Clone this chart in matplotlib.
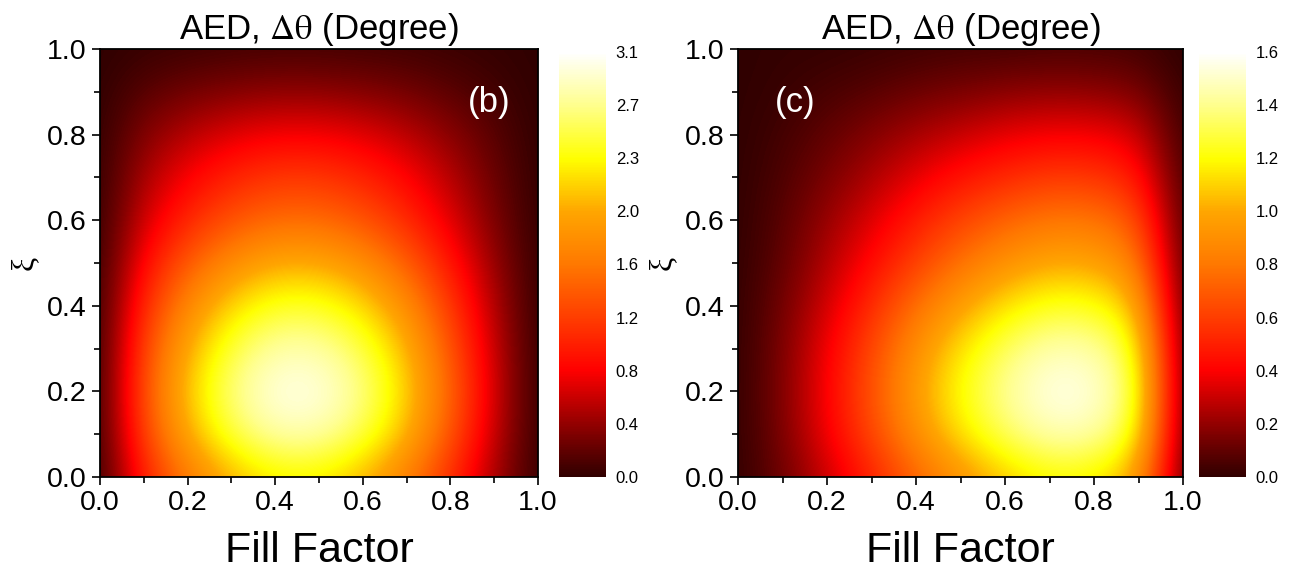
import numpy as np
import matplotlib
matplotlib.use("Agg")
import matplotlib.pyplot as plt
from matplotlib.colors import LinearSegmentedColormap

plt.rcParams['font.family'] = ['Liberation Sans', 'DejaVu Sans']
plt.rcParams['mathtext.fontset'] = 'stix'

# grid positions (fill factor on x, xi on y)
fill_factor = [0.0, 0.1, 0.2, 0.3, 0.4, 0.5, 0.6, 0.7, 0.8, 0.9, 1.0]
xi = [0.0, 0.1, 0.2, 0.3, 0.4, 0.5, 0.6, 0.7, 0.8, 0.9, 1.0]

# panel (b): rows are xi = 0 ... 1, columns are fill factor = 0 ... 1
aed_b = [
    [0, 0.97, 1.56, 2.00, 2.25, 2.25, 2.02, 1.61, 1.06, 0.46, 0],
    [0, 1.22, 1.97, 2.52, 2.84, 2.84, 2.55, 2.03, 1.33, 0.58, 0],
    [0, 1.30, 2.11, 2.70, 3.04, 3.04, 2.73, 2.17, 1.43, 0.62, 0],
    [0, 1.22, 1.97, 2.52, 2.84, 2.84, 2.55, 2.03, 1.33, 0.58, 0],
    [0, 1.05, 1.70, 2.18, 2.45, 2.45, 2.20, 1.75, 1.15, 0.50, 0],
    [0, 0.84, 1.36, 1.74, 1.96, 1.96, 1.76, 1.40, 0.92, 0.40, 0],
    [0, 0.63, 1.02, 1.31, 1.47, 1.47, 1.32, 1.05, 0.69, 0.30, 0],
    [0, 0.48, 0.78, 1.00, 1.13, 1.13, 1.01, 0.81, 0.53, 0.23, 0],
    [0, 0.33, 0.53, 0.68, 0.76, 0.76, 0.69, 0.55, 0.36, 0.16, 0],
    [0, 0.16, 0.26, 0.33, 0.37, 0.37, 0.33, 0.27, 0.17, 0.08, 0],
    [0, 0.03, 0.05, 0.07, 0.08, 0.08, 0.07, 0.06, 0.04, 0.02, 0],
]

# panel (c)
aed_c = [
    [0, 0.12, 0.30, 0.50, 0.72, 0.91, 1.07, 1.18, 1.16, 0.98, 0.06],
    [0, 0.15, 0.38, 0.63, 0.90, 1.14, 1.34, 1.47, 1.46, 1.23, 0.08],
    [0, 0.16, 0.40, 0.67, 0.96, 1.22, 1.42, 1.57, 1.55, 1.31, 0.08],
    [0, 0.15, 0.38, 0.63, 0.90, 1.14, 1.34, 1.47, 1.46, 1.23, 0.08],
    [0, 0.13, 0.32, 0.54, 0.77, 0.97, 1.14, 1.25, 1.24, 1.05, 0.06],
    [0, 0.10, 0.26, 0.43, 0.61, 0.78, 0.91, 1.00, 0.99, 0.84, 0.05],
    [0, 0.08, 0.21, 0.34, 0.49, 0.62, 0.73, 0.80, 0.80, 0.67, 0.04],
    [0, 0.06, 0.15, 0.25, 0.36, 0.46, 0.53, 0.59, 0.58, 0.49, 0.03],
    [0, 0.04, 0.10, 0.17, 0.24, 0.30, 0.36, 0.39, 0.39, 0.33, 0.02],
    [0, 0.02, 0.05, 0.08, 0.12, 0.15, 0.18, 0.20, 0.19, 0.16, 0.01],
    [0, 0.01, 0.01, 0.02, 0.03, 0.04, 0.04, 0.05, 0.05, 0.04, 0.00],
]

cbar_ticks_b = [0.0, 0.39, 0.78, 1.17, 1.56, 1.95, 2.34, 2.73, 3.12]
cbar_labels_b = ['0.0', '0.4', '0.8', '1.2', '1.6', '2.0', '2.3', '2.7', '3.1']
cbar_ticks_c = [0.0, 0.2, 0.4, 0.6, 0.8, 1.0, 1.2, 1.4, 1.6]
cbar_labels_c = ['0.0', '0.2', '0.4', '0.6', '0.8', '1.0', '1.2', '1.4', '1.6']

# Origin-like red-yellow palette
fire = LinearSegmentedColormap.from_list('fire', [
    (0.0, (0.19, 0.0, 0.0)),
    (0.125, (0.58, 0.0, 0.0)),
    (0.25, (1.0, 0.0, 0.0)),
    (0.375, (1.0, 0.24, 0.0)),
    (0.5, (1.0, 0.47, 0.0)),
    (0.625, (1.0, 0.65, 0.0)),
    (0.75, (1.0, 1.0, 0.0)),
    (0.875, (1.0, 1.0, 0.55)),
    (1.0, (1.0, 1.0, 1.0)),
])

fig = plt.figure(figsize=(12.96, 5.81), dpi=100)
W, H = 1296, 581


def box(x0, y0, x1, y1):
    return [x0 / W, 1 - y1 / H, (x1 - x0) / W, (y1 - y0) / H]


panels = [
    (aed_b, box(100, 49, 538, 477), box(559, 52, 606, 477), 3.12,
     cbar_ticks_b, cbar_labels_b, '(b)', 0.888),
    (aed_c, box(738, 49, 1183, 477), box(1199, 52, 1246, 477), 1.6,
     cbar_ticks_c, cbar_labels_c, '(c)', 0.128),
]

dx = (fill_factor[1] - fill_factor[0]) / 2
dy = (xi[1] - xi[0]) / 2
for data, ax_box, cb_box, vmax, cticks, clabels, tag, tag_x in panels:
    ax = fig.add_axes(ax_box)
    im = ax.imshow(np.array(data), origin='lower', cmap=fire, vmin=0, vmax=vmax,
                   extent=(fill_factor[0] - dx, fill_factor[-1] + dx, xi[0] - dy, xi[-1] + dy),
                   interpolation='bicubic', aspect='auto')
    ax.set_xlim(0, 1)
    ax.set_ylim(0, 1)
    ax.set_xticks([0, 0.2, 0.4, 0.6, 0.8, 1.0])
    ax.set_yticks([0, 0.2, 0.4, 0.6, 0.8, 1.0])
    ax.set_xticks([0.1, 0.3, 0.5, 0.7, 0.9], minor=True)
    ax.set_yticks([0.1, 0.3, 0.5, 0.7, 0.9], minor=True)
    ax.tick_params(which='both', direction='out', top=False, right=False,
                   labelsize=20.5, width=1.2)
    ax.tick_params(which='major', length=6)
    ax.tick_params(which='minor', length=4)
    for s in ax.spines.values():
        s.set_linewidth(1.3)
    ax.set_xlabel('Fill Factor', fontsize=31, labelpad=11)
    ax.set_ylabel('ξ', fontsize=23, family=['Liberation Serif', 'DejaVu Serif'], labelpad=6)
    ax.set_title(r'AED, $\mathrm{Δθ}$ (Degree)', fontsize=25, pad=7)
    ax.text(tag_x, 0.874, tag, color='white', fontsize=25, transform=ax.transAxes,
            ha='center', va='center')

    cax = fig.add_axes(cb_box)
    cb = fig.colorbar(im, cax=cax)
    cb.outline.set_visible(False)
    cb.set_ticks(cticks)
    cb.set_ticklabels(clabels)
    cax.tick_params(length=0, labelsize=12, pad=7)

plt.savefig('out.png', dpi=100)
